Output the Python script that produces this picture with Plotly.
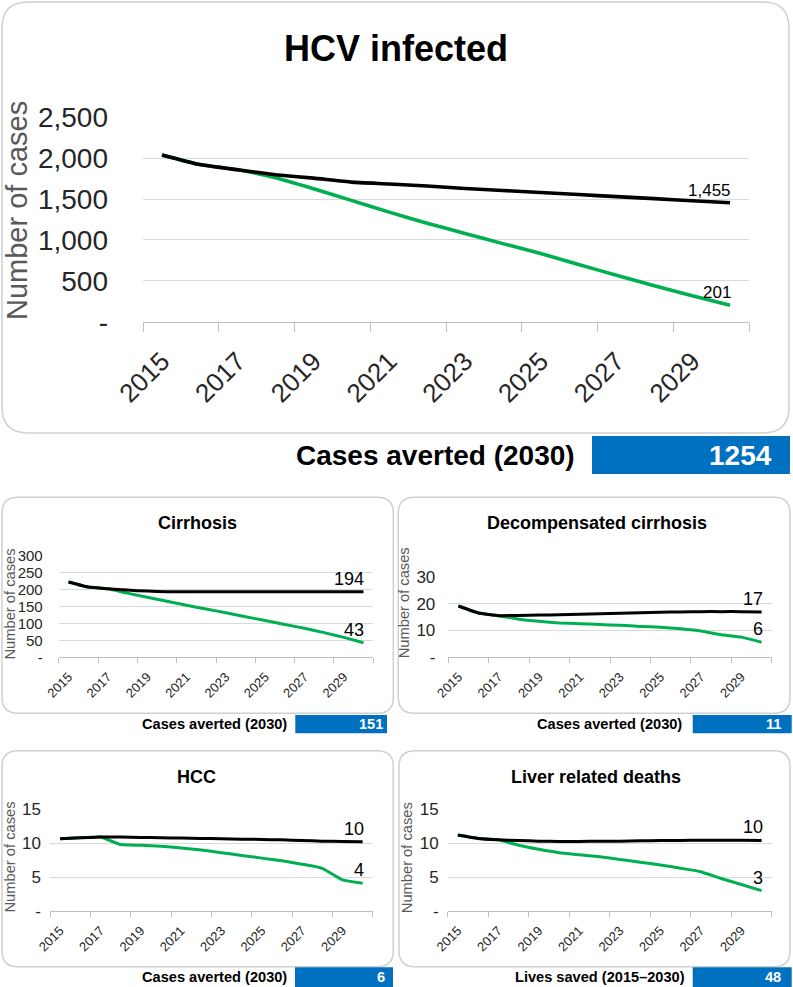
import plotly.graph_objects as go

W, H = 793, 987

# ---------------- data ----------------
years = [2015, 2016, 2017, 2018, 2019, 2020, 2021, 2022, 2023, 2024, 2025, 2026, 2027, 2028, 2029, 2030]
x_tick_labels = ["2015", "2017", "2019", "2021", "2023", "2025", "2027", "2029"]

hcv_base = [2040, 1922, 1858, 1797, 1756, 1707, 1685, 1660, 1630, 1605, 1580, 1555, 1530, 1505, 1480, 1455]
hcv_interv = [2040, 1922, 1858, 1761, 1627, 1484, 1340, 1205, 1080, 955, 834, 700, 568, 440, 318, 201]

cirr_base = [223, 208, 203, 199, 196, 194, 194, 194, 194, 194, 194, 194, 194, 194, 194, 194]
cirr_interv = [223, 208, 203, 190, 178, 166, 154, 143, 132, 120, 109, 97, 86, 73, 59, 43]

decomp_base = [19.1, 16.5, 15.5, 15.6, 15.7, 15.8, 16.0, 16.2, 16.4, 16.6, 16.8, 16.9, 17.0, 17.0, 17.0, 16.9]
decomp_interv = [19.1, 16.5, 15.5, 14.2, 13.4, 12.8, 12.5, 12.2, 11.9, 11.5, 11.2, 10.6, 9.8, 8.4, 7.5, 5.6]

hcc_base = [10.65, 10.8, 10.9, 10.9, 10.85, 10.8, 10.75, 10.7, 10.65, 10.6, 10.55, 10.5, 10.4, 10.3, 10.25, 10.2]
hcc_interv = [10.65, 10.8, 10.9, 9.8, 9.7, 9.55, 9.3, 9.0, 8.6, 8.2, 7.8, 7.4, 6.9, 6.3, 4.6, 4.1]

ld_base = [11.2, 10.7, 10.5, 10.4, 10.3, 10.25, 10.25, 10.3, 10.3, 10.35, 10.4, 10.4, 10.45, 10.45, 10.45, 10.4]
ld_interv = [11.2, 10.7, 10.5, 9.7, 9.1, 8.6, 8.3, 8.0, 7.6, 7.2, 6.8, 6.3, 5.8, 4.8, 3.9, 3.0]

panel_titles = ["HCV infected", "Cirrhosis", "Decompensated cirrhosis", "HCC", "Liver related deaths"]
summary_labels = ["Cases averted (2030)", "Cases averted (2030)", "Cases averted (2030)",
                  "Cases averted (2030)", "Lives saved (2015\u20132030)"]
summary_values = [1254, 151, 11, 6, 48]

y_ticks_hcv = [0, 500, 1000, 1500, 2000, 2500]
y_ticks_cirr = [0, 50, 100, 150, 200, 250, 300]
y_ticks_decomp = [0, 10, 20, 30]
y_ticks_hcc = [0, 5, 10, 15]
y_ticks_ld = [0, 5, 10, 15]
y_title = "Number of cases"

series = [
    (hcv_base, hcv_interv, y_ticks_hcv),
    (cirr_base, cirr_interv, y_ticks_cirr),
    (decomp_base, decomp_interv, y_ticks_decomp),
    (hcc_base, hcc_interv, y_ticks_hcc),
    (ld_base, ld_interv, y_ticks_ld),
]

# ---------------- layout geometry (pixels) ----------------
FONT = "Liberation Sans, Arial, sans-serif"
GREEN = "#00B050"
BLUE = "#0070C0"

geo = [
    dict(plot=(143, 117.3, 749, 321.7), title=(396, 49, 36), ytitle=(17, 211, 29),
         box=(2, 2, 789, 433, 26), lw=3.6, xfs=26, yfs=28, ystand=34, xstand=13, dfs=17,
         summ=dict(lab_r=577, cy=455, fs=28, bx=(592, 436, 790, 474), val_r=774)),
    dict(plot=(58.7, 556, 373.3, 657.3), title=(197, 523, 18), ytitle=(9.5, 604, 14.7),
         box=(2, 497.3, 393.3, 713.3, 16), lw=3, xfs=13, yfs=15, ystand=15, xstand=6, dfs=18,
         summ=dict(lab_r=289.3, cy=724, fs=14.6, bx=(295.3, 715, 387, 733.3), val_r=384.5)),
    dict(plot=(448.3, 576.7, 771.7, 657.3), title=(596.7, 523, 18), ytitle=(404.3, 603, 14.7),
         box=(398.3, 497.3, 790, 713.3, 16), lw=3, xfs=13, yfs=17, ystand=12, xstand=6, dfs=18,
         summ=dict(lab_r=684.3, cy=724, fs=14.6, bx=(692.7, 715, 791.7, 733.3), val_r=782.7)),
    dict(plot=(50, 809.3, 372.7, 911), title=(196.7, 776.7, 18), ytitle=(9.5, 857, 14.7),
         box=(2, 750.7, 393.3, 966.7, 16), lw=3, xfs=13, yfs=17, ystand=8, xstand=6, dfs=18,
         summ=dict(lab_r=288.7, cy=977, fs=14.6, bx=(295, 967.3, 393, 987), val_r=386.7)),
    dict(plot=(447.7, 809.3, 771.7, 911), title=(596.2, 776.7, 18), ytitle=(406.7, 857.5, 14.7),
         box=(399, 750.7, 790, 966.7, 16), lw=3, xfs=13, yfs=17, ystand=8, xstand=6, dfs=18,
         summ=dict(lab_r=686.7, cy=977, fs=14.6, bx=(692.7, 967.3, 791.7, 987), val_r=783.3)),
]


def px(x):
    return x / W


def py(y):
    return 1 - y / H


def rounded_path(x0, y0, x1, y1, r):
    rx, ry = r / W, r / H
    X0, X1 = px(x0), px(x1)
    Y0, Y1 = py(y0), py(y1)  # Y0 top, Y1 bottom
    return (f"M {X0+rx},{Y0} L {X1-rx},{Y0} Q {X1},{Y0} {X1},{Y0-ry} "
            f"L {X1},{Y1+ry} Q {X1},{Y1} {X1-rx},{Y1} "
            f"L {X0+rx},{Y1} Q {X0},{Y1} {X0},{Y1+ry} "
            f"L {X0},{Y0-ry} Q {X0},{Y0} {X0+rx},{Y0} Z")


fig = go.Figure()
shapes = []
annotations = []
layout_axes = {}

for i, ((base, interv, yt), g) in enumerate(zip(series, geo)):
    n = "" if i == 0 else str(i + 1)
    xa, ya = "x" + n, "y" + n
    x0, t, x1, b = g["plot"]

    fig.add_trace(go.Scatter(x=years, y=interv, mode="lines", xaxis=xa, yaxis=ya,
                             line=dict(color=GREEN, width=g["lw"], shape="spline", smoothing=0.4),
                             hoverinfo="skip", showlegend=False))
    fig.add_trace(go.Scatter(x=years, y=base, mode="lines", xaxis=xa, yaxis=ya,
                             line=dict(color="black", width=g["lw"], shape="spline", smoothing=0.4),
                             hoverinfo="skip", showlegend=False))

    layout_axes["xaxis" + n] = dict(
        domain=[px(x0), px(x1)], anchor=ya, range=[years[0] - 0.5, years[-1] + 0.5],
        automargin=False,
        tickmode="array", tickvals=[int(s) for s in x_tick_labels], ticktext=x_tick_labels,
        tickangle=-45, ticks="", ticklabelstandoff=g["xstand"],
        tickfont=dict(family=FONT, size=g["xfs"], color="#262626"),
        showgrid=False, zeroline=False, showline=True, linecolor="#bfbfbf", linewidth=1,
        minor=dict(tickmode="array", tickvals=[y - 0.5 for y in years[::2]] + [years[-1] + 0.5],
                   ticks="outside", ticklen=9 if i == 0 else 5, tickcolor="#bfbfbf", tickwidth=1,
                   showgrid=False),
        fixedrange=True,
    )
    layout_axes["yaxis" + n] = dict(
        domain=[py(b), py(t)], anchor=xa, range=[yt[0], yt[-1]],
        automargin=False,
        tickmode="array", tickvals=yt, ticktext=["-" if v == 0 else f"{v:,}" for v in yt],
        ticks="", ticklabelstandoff=g["ystand"],
        tickfont=dict(family=FONT, size=g["yfs"], color="#262626"),
        showgrid=True, gridcolor="#d9d9d9", gridwidth=1, zeroline=False, showline=False,
        fixedrange=True,
    )

    # end-point data labels
    for series_vals in (base, interv):
        annotations.append(dict(
            x=years[-1], y=series_vals[-1], xref=xa, yref=ya, text=f"{round(series_vals[-1]):,}",
            showarrow=False, xanchor="right", yanchor="bottom", xshift=3, yshift=1,
            font=dict(family=FONT, size=g["dfs"], color="black")))

    # panel box
    bx0, by0, bx1, by1, r = g["box"]
    shapes.append(dict(type="path", path=rounded_path(bx0, by0, bx1, by1, r), xref="paper", yref="paper",
                       line=dict(color="#d0d0d0", width=1.5), fillcolor="rgba(0,0,0,0)", layer="below"))

    # title
    tx, ty, tfs = g["title"]
    annotations.append(dict(x=px(tx), y=py(ty), xref="paper", yref="paper", text=f"<b>{panel_titles[i]}</b>",
                            showarrow=False, xanchor="center", yanchor="middle",
                            font=dict(family=FONT, size=tfs, color="black")))
    # y title
    yx, yy, yfs = g["ytitle"]
    annotations.append(dict(x=px(yx), y=py(yy), xref="paper", yref="paper", text=y_title,
                            showarrow=False, xanchor="center", yanchor="middle", textangle=-90,
                            font=dict(family=FONT, size=yfs, color="#595959")))

    # summary row
    s = g["summ"]
    sx0, sy0, sx1, sy1 = s["bx"]
    shapes.append(dict(type="rect", x0=px(sx0), x1=px(sx1), y0=py(sy1), y1=py(sy0), xref="paper", yref="paper",
                       fillcolor=BLUE, line=dict(width=0)))
    annotations.append(dict(x=px(s["lab_r"]), y=py(s["cy"]), xref="paper", yref="paper",
                            text=f"<b>{summary_labels[i]}</b>", showarrow=False, xanchor="right", yanchor="middle",
                            font=dict(family=FONT, size=s["fs"], color="black")))
    annotations.append(dict(x=px(s["val_r"]), y=py((sy0 + sy1) / 2), xref="paper", yref="paper",
                            text=f"<b>{summary_values[i]}</b>", showarrow=False, xanchor="right", yanchor="middle",
                            font=dict(family=FONT, size=s["fs"], color="white")))

fig.update_layout(
    width=W, height=H, margin=dict(l=0, r=0, t=0, b=0, autoexpand=False),
    paper_bgcolor="white", plot_bgcolor="white",
    showlegend=False, shapes=shapes, annotations=annotations,
    font=dict(family=FONT),
    **layout_axes,
)

fig.write_html("out.html", config={"displayModeBar": False},
               post_script="document.body.style.margin='0';document.body.style.overflow='hidden';")
